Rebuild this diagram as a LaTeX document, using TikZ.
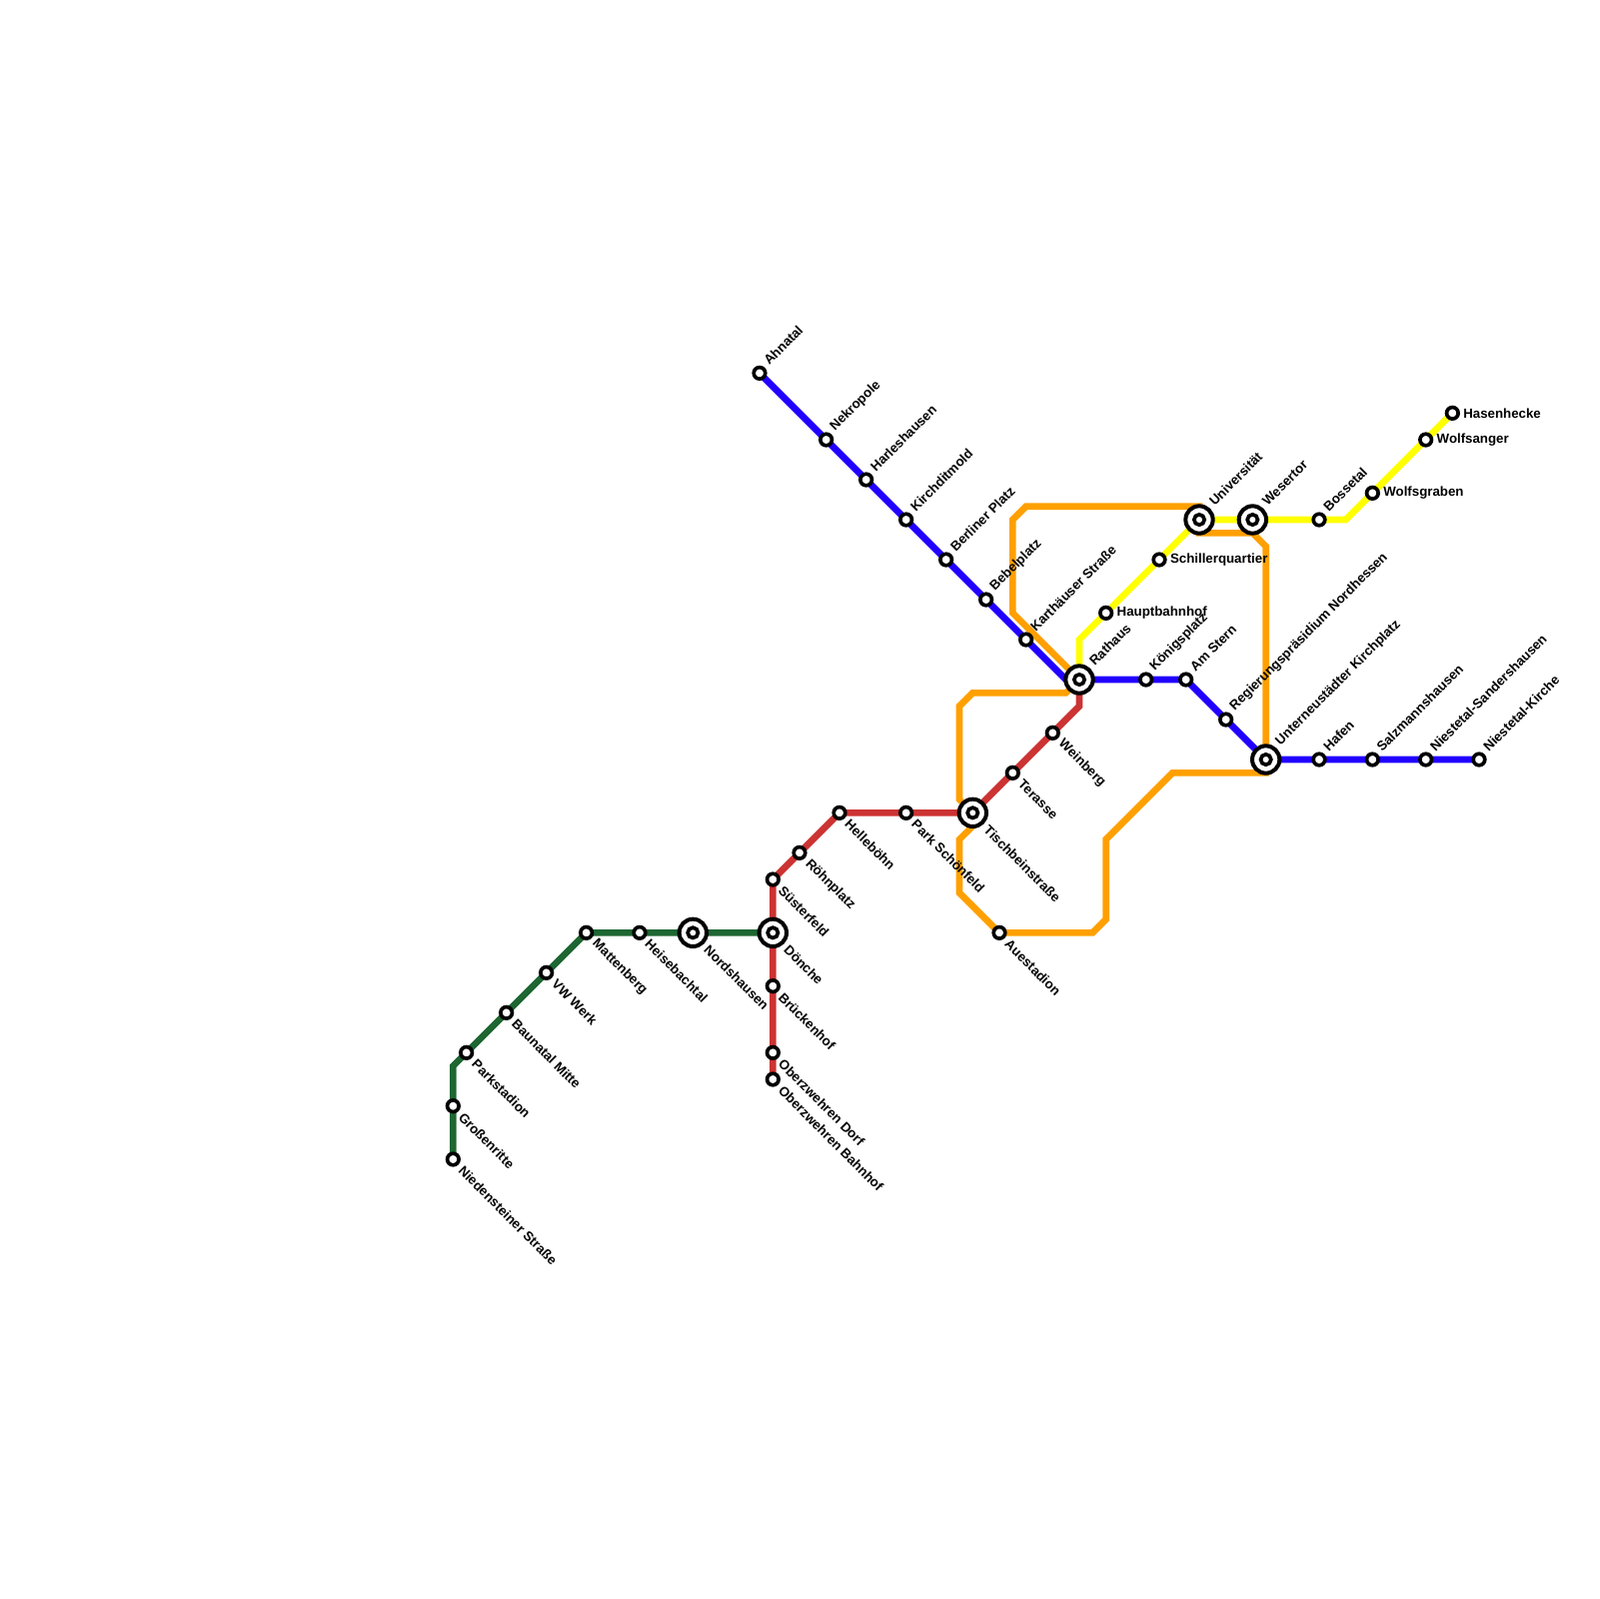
\documentclass[tikz,border=0pt]{standalone}
\usepackage{fontspec}
\setmainfont{Liberation Sans}
\usetikzlibrary{backgrounds}
\definecolor{bluelinie}{HTML}{2200FF}
\definecolor{redlinie}{HTML}{CC3333}
\definecolor{greenlinie}{HTML}{1E6632}
\definecolor{orangelinie}{HTML}{FFA000}
\definecolor{yellowlinie}{HTML}{FFFF00}
\begin{document}
\begin{tikzpicture}[x=3mm,y=-3mm,
		stop/.style={circle,draw=black,fill=white,line width=0.82mm,minimum size=2.6mm,inner sep=0pt},
		hub/.style={circle,draw=black,fill=white,line width=0.9mm,minimum size=6.15mm,inner sep=0pt,
			every label/.style={xshift=0.4mm},
			path picture={\draw[line width=0.83mm,fill=white] (path picture bounding box.center) circle (1.16mm);}},
		linie/.style={line width=1.5mm},
		tag/.style={font=\fontsize{8.5}{10}\selectfont\bfseries,inner sep=0pt,text=black,label distance=1.15mm},
		nameup/.style={label={[tag,xshift=0.2mm,rotate=45,anchor=west]45:#1}},
		namedown/.style={label={[tag,xshift=0.55mm,yshift=0.33mm,rotate=-45,anchor=west]-45:#1}},
		nameright/.style={label={[tag,xshift=-0.45mm,anchor=west]0:#1}}]
		\useasboundingbox (0,0) rectangle (120,120);
		\node[stop,nameup=Ahnatal] (ahnatal) at (57,28) {};
		\node[stop,nameup=Nekropole] (nekropole) at (62,33) {};
		\node[stop,nameup=Harleshausen] (harleshausen) at (65,36) {};
		\node[stop,nameup=Kirchditmold] (kirchditmold) at (68,39) {};
		\node[stop,nameup=Berliner Platz] (berliner) at (71,42) {};
		\node[stop,nameup=Bebelplatz] (bebel) at (74,45) {};
		\node[stop,nameup=Karthäuser Straße] (karthaeuser) at (77,48) {};
		\node[hub,nameup=Rathaus] (rathaus) at (81,51) {};
		\node[stop,nameup=Königsplatz] (koenigsplatz) at (86,51) {};
		\node[stop,nameup=Am Stern] (amstern) at (89,51) {};
		\node[stop,nameup=Regierungspräsidium Nordhessen] (regierung) at (92,54) {};
		\node[hub,nameup=Unterneustädter Kirchplatz] (unterneustadt) at (95,57) {};
		\node[stop,nameup=Hafen] (hafen) at (99,57) {};
		\node[stop,nameup=Salzmannshausen] (salzmann) at (103,57) {};
		\node[stop,nameup=Niestetal-Sandershausen] (sandershausen) at (107,57) {};
		\node[stop,nameup=Niestetal-Kirche] (nkirche) at (111,57) {};

		\node[stop,nameright=Hauptbahnhof] (hbf) at (83,46) {};
		\node[stop,nameright=Schillerquartier] (schiller) at (87,42) {};
		\node[hub,nameup=Universität] (uni) at (90,39) {};
		\node[hub,nameup=Wesertor] (wesertor) at (94,39) {};
		\node[stop,nameup=Bossetal] (bossetal) at (99,39) {};
		\node[stop,nameright=Wolfsgraben] (wolfsgraben) at (103,37) {};
		\node[stop,nameright=Wolfsanger] (wolfsanger) at (107,33) {};
		\node[stop,nameright=Hasenhecke] (hasenhecke) at (109,31) {};

		\node[stop,namedown=Weinberg] (weinberg) at (79,55) {};
		\node[stop,namedown=Terasse] (terasse) at (76,58) {};
		\node[hub,namedown=Tischbeinstraße] (tischbein) at (73,61) {};
		\node[stop,namedown=Park Schönfeld] (park) at (68,61) {};
		\node[stop,namedown=Helleböhn] (helleboehn) at (63,61) {};
		\node[stop,namedown=Röhnplatz] (roehnplatz) at (60,64) {};
		\node[stop,namedown=Süsterfeld] (suesterfeld) at (58,66) {};
		\node[hub,namedown=Dönche] (doenche) at (58,70) {};
		\node[stop,namedown=Brückenhof] (brueckenhof) at (58,74) {};
		\node[stop,namedown=Oberzwehren Dorf] (ozdorf) at (58,79) {};
		\node[stop,namedown=Oberzwehren Bahnhof] (ozbahnhof) at (58,81) {};

		\node[hub,namedown=Nordshausen] (nordshausen) at (52,70) {};
		\node[stop,namedown=Heisebachtal] (heisebachtal) at (48,70) {};
		\node[stop,namedown=Mattenberg] (mattenberg) at (44,70) {};
		\node[stop,namedown=VW Werk] (vwwerk) at (41,73) {};
		\node[stop,namedown=Baunatal Mitte] (baunatal) at (38,76) {};
		\node[stop,namedown=Parkstadion] (parkstadion) at (35,79) {};
		\node[stop,namedown=Großenritte] (grossenritte) at (34,83) {};
		\node[stop,namedown=Niedensteiner Straße] (niedenstein) at (34,87) {};

		\node[stop,namedown=Auestadion] (auestadion) at (75,70) {};

		\coordinate (bknick) at (80,51);
		\coordinate (yknick) at (81,48);
		\coordinate (ybend) at (101,39);
		\coordinate (rknick) at (81,53);
		\coordinate (gknick) at (34,80);
		\coordinate (oa) at (76,46);
		\coordinate (ob) at (76,39);
		\coordinate (oc) at (77,38);
		\coordinate (od) at (90,38);
		\coordinate (oe) at (90,40);
		\coordinate (of) at (94,40);
		\coordinate (og) at (95,41);
		\coordinate (oh) at (95,58);
		\coordinate (oi) at (88,58);
		\coordinate (oj) at (83,63);
		\coordinate (ok) at (83,69);
		\coordinate (ol) at (82,70);
		\coordinate (om) at (72,67);
		\coordinate (on) at (72,63);
		\coordinate (oo) at (73,62);
		\coordinate (op) at (72,60);
		\coordinate (oq) at (72,53);
		\coordinate (or) at (73,52);
		\coordinate (os) at (80,52);

		\begin{scope}[on background layer]
			\draw[linie,orangelinie] (rathaus.center) -- (oa) -- (ob) -- (oc) -- (od) -- (uni.center) -- (oe) -- (of) -- (og)
				-- (unterneustadt.center) -- (oh) -- (oi) -- (oj) -- (ok) -- (ol) -- (auestadion.center) -- (om) -- (on) -- (oo)
				-- (tischbein.center) -- (op) -- (oq) -- (or) -- (os) -- (rathaus.center);
			\draw[linie,yellowlinie] (rathaus.center) -- (yknick) -- (hbf.center) -- (schiller.center) -- (uni.center)
				-- (wesertor.center) -- (bossetal.center) -- (ybend) -- (wolfsgraben.center) -- (wolfsanger.center) -- (hasenhecke.center);
			\draw[linie,redlinie] (rathaus.center) -- (rknick) -- (weinberg.center) -- (terasse.center) -- (tischbein.center)
				-- (park.center) -- (helleboehn.center) -- (roehnplatz.center) -- (suesterfeld.center) -- (doenche.center)
				-- (brueckenhof.center) -- (ozdorf.center) -- (ozbahnhof.center);
			\draw[linie,greenlinie] (doenche.center) -- (nordshausen.center) -- (heisebachtal.center) -- (mattenberg.center)
				-- (vwwerk.center) -- (baunatal.center) -- (parkstadion.center) -- (gknick) -- (grossenritte.center) -- (niedenstein.center);
			\draw[linie,bluelinie] (ahnatal.center) -- (nekropole.center) -- (harleshausen.center) -- (kirchditmold.center)
				-- (berliner.center) -- (bebel.center) -- (karthaeuser.center) -- (bknick) -- (rathaus.center) -- (koenigsplatz.center)
				-- (amstern.center) -- (regierung.center) -- (unterneustadt.center) -- (hafen.center) -- (salzmann.center)
				-- (sandershausen.center) -- (nkirche.center);
		\end{scope}
	\end{tikzpicture}
\end{document}
